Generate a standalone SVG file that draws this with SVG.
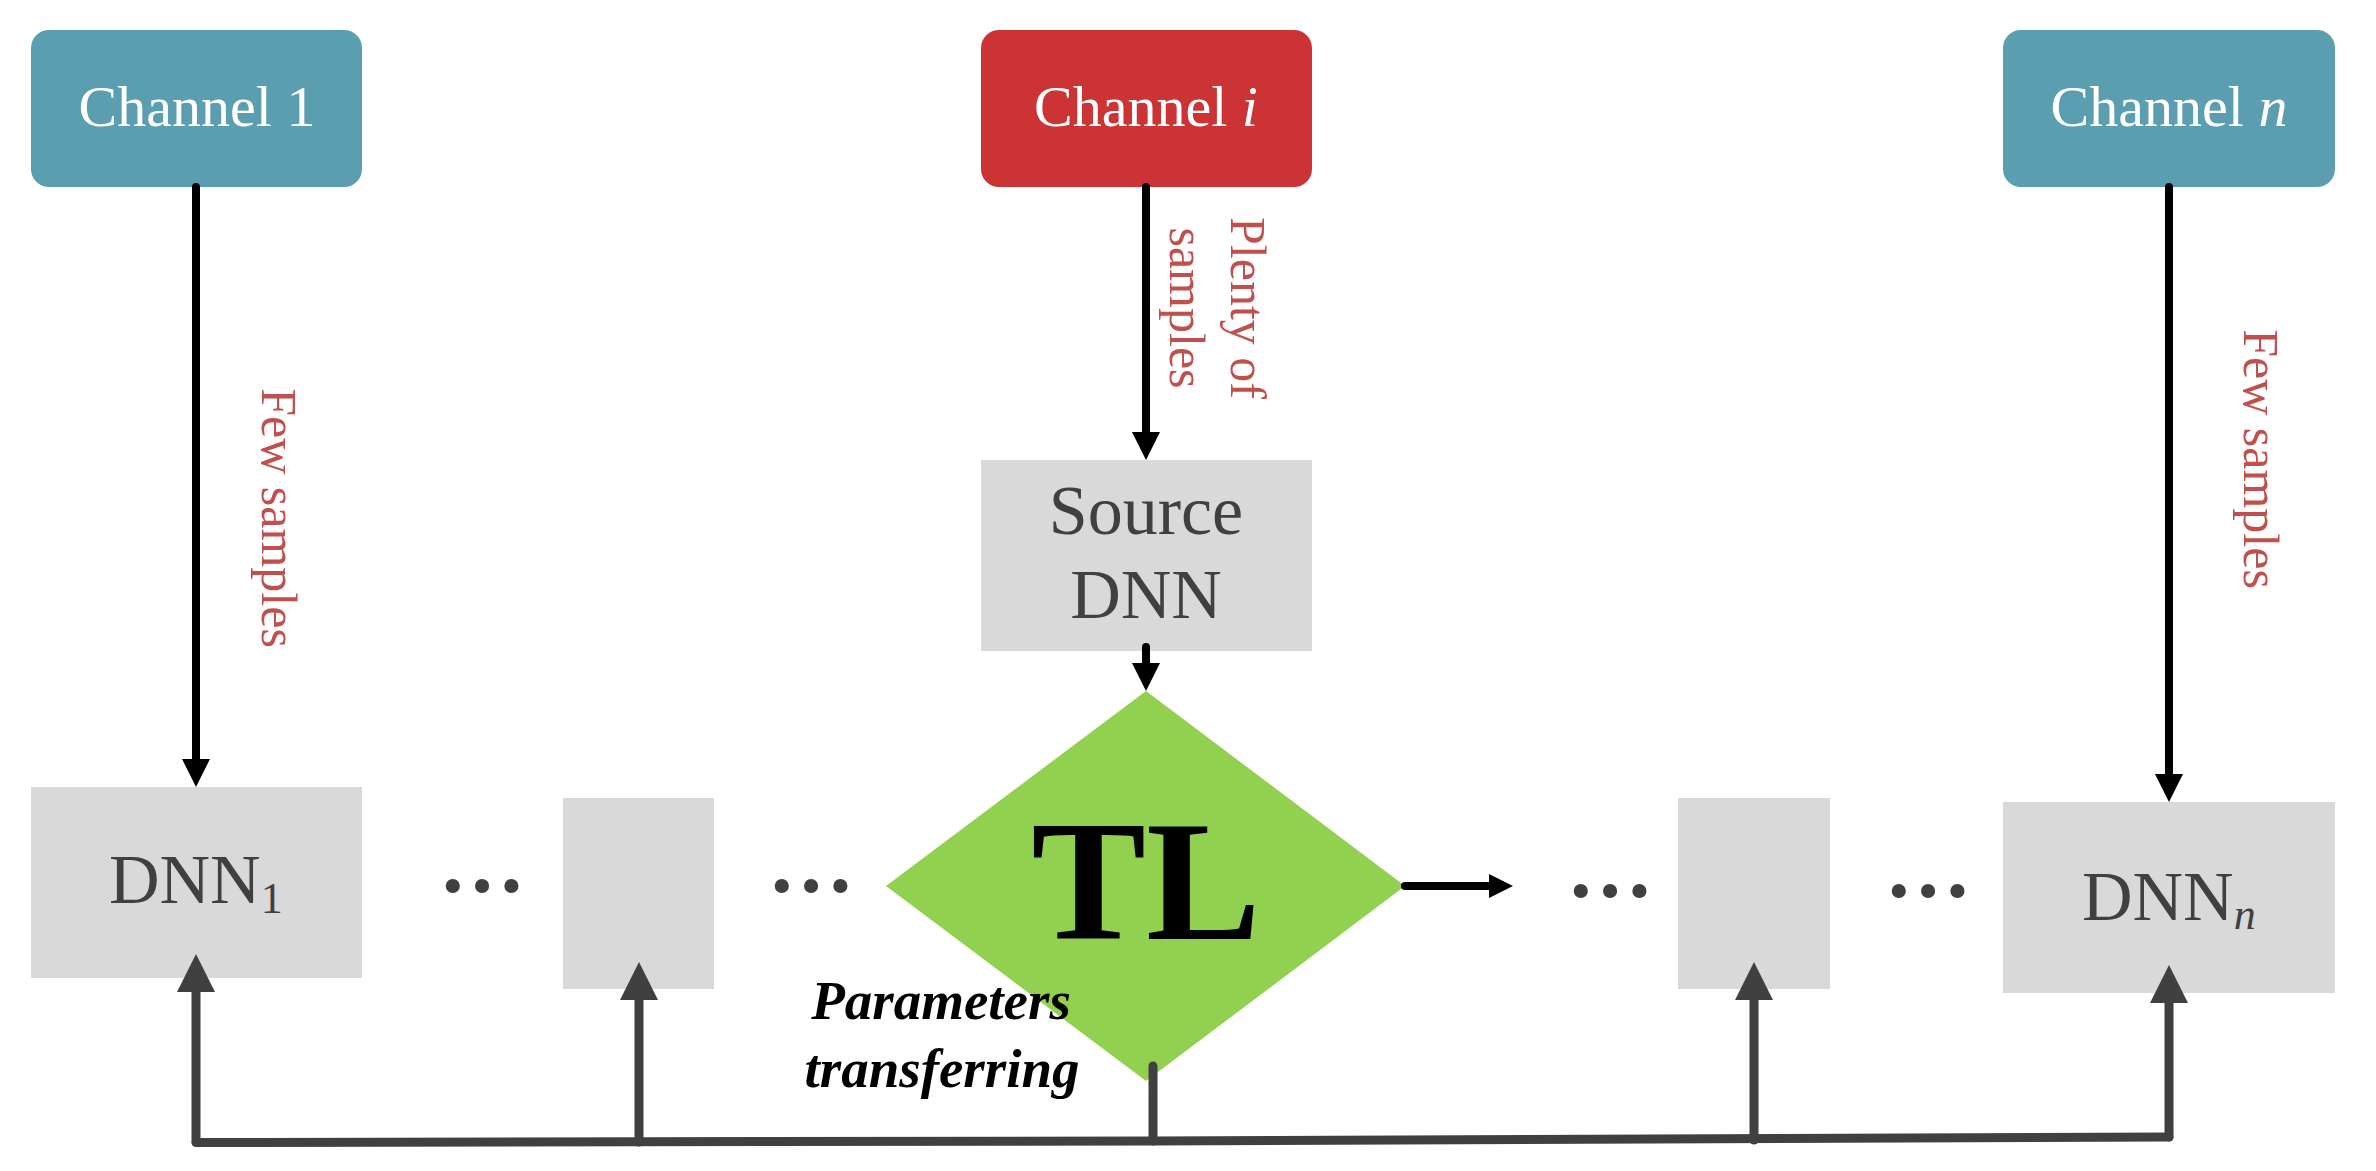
<svg xmlns="http://www.w3.org/2000/svg" width="2376" height="1171" viewBox="0 0 2376 1171">
  <style>
    text { font-family: "Liberation Serif", "Times New Roman", serif; }
    .ch { font-size: 58px; fill: #ffffff; text-anchor: middle; }
    .teal { fill: #5b9eb0; }
    .red { fill: #cc3335; }
    .gray { fill: #d9d9d9; }
    .dnn { font-size: 70px; fill: #404040; }
    .lbl { font-size: 50px; fill: #c0504d; text-anchor: middle; }
    .dots { font-size: 87px; font-weight: bold; fill: #404040; text-anchor: middle; }
    .blk { fill: none; stroke: #000000; stroke-width: 8; stroke-linecap: round; }
    .dg { fill: none; stroke: #404040; stroke-width: 9; stroke-linecap: round; stroke-linejoin: round; }
  </style>
  <defs>
    <marker id="ab" viewBox="0 0 28 28" refX="1" refY="14" markerWidth="28" markerHeight="28" markerUnits="userSpaceOnUse" orient="auto">
      <path d="M0,0 L28,14 L0,28 Z" fill="#000000"/>
    </marker>
    <marker id="ar" viewBox="0 0 24 24" refX="1" refY="12" markerWidth="24" markerHeight="24" markerUnits="userSpaceOnUse" orient="auto">
      <path d="M0,0 L24,12 L0,24 Z" fill="#000000"/>
    </marker>
    <marker id="ag" viewBox="0 0 38 38" refX="1" refY="19" markerWidth="38" markerHeight="38" markerUnits="userSpaceOnUse" orient="auto">
      <path d="M0,0 L38,19 L0,38 Z" fill="#404040"/>
    </marker>
  </defs>

  <g id="channel-1">
    <rect class="teal" x="31" y="30" width="331" height="157" rx="18"/>
    <text class="ch" x="197" y="126">Channel 1</text>
  </g>
  <g id="channel-i">
    <rect class="red" x="981" y="30" width="331" height="157" rx="18"/>
    <text class="ch" x="1146" y="126">Channel <tspan font-style="italic">i</tspan></text>
  </g>
  <g id="channel-n">
    <rect class="teal" x="2003" y="30" width="332" height="157" rx="18"/>
    <text class="ch" x="2169" y="126">Channel <tspan font-style="italic">n</tspan></text>
  </g>

  <g id="source-dnn">
    <rect class="gray" x="981" y="460" width="331" height="191"/>
    <text class="dnn" text-anchor="middle"><tspan x="1146" y="534">Source</tspan><tspan x="1146" y="618">DNN</tspan></text>
  </g>

  <g id="dnn-1">
    <rect class="gray" x="31" y="787" width="331" height="191"/>
    <text class="dnn" x="109" y="903">DNN<tspan font-size="44" dy="10">1</tspan></text>
  </g>
  <g id="dnn-a">
    <rect class="gray" x="563" y="798" width="151" height="191"/>
  </g>
  <g id="tl">
    <polygon points="1146,691 1405,886 1146,1081 886,886" fill="#92d050"/>
    <text x="1146" y="939" font-size="172" font-weight="bold" text-anchor="middle" fill="#000000">TL</text>
  </g>
  <g id="dnn-b">
    <rect class="gray" x="1678" y="798" width="152" height="191"/>
  </g>
  <g id="dnn-n">
    <rect class="gray" x="2003" y="802" width="332" height="191"/>
    <text class="dnn" x="2082" y="920">DNN<tspan font-size="44" font-style="italic" dy="9">n</tspan></text>
  </g>

  <g id="ellipses">
    <text class="dots" x="482" y="892">…</text>
    <text class="dots" x="811" y="892">…</text>
    <text class="dots" x="1610" y="897">…</text>
    <text class="dots" x="1928" y="897">…</text>
  </g>

  <g id="connectors">
    <path class="blk" d="M196,187 V760" marker-end="url(#ab)"/>
    <path class="blk" d="M1146,187 V433" marker-end="url(#ab)"/>
    <path class="blk" d="M2169,187 V775" marker-end="url(#ab)"/>
    <path class="blk" d="M1146,647 V664" marker-end="url(#ab)"/>
    <path class="blk" d="M1405,886 H1490" stroke-width="7" marker-end="url(#ar)"/>
    <path class="dg" d="M196,1142 V991" marker-end="url(#ag)"/>
    <path class="dg" d="M639,1142 V999" marker-end="url(#ag)"/>
    <path class="dg" d="M1754,1140 V999" marker-end="url(#ag)"/>
    <path class="dg" d="M2169,1137 V1002" marker-end="url(#ag)"/>
    <path class="dg" d="M1153,1066 V1141"/>
    <path class="dg" d="M196,1142.5 L1153,1141 L2169,1137" stroke-width="10.5"/>
  </g>

  <g id="labels">
    <text class="lbl" transform="translate(262,518) rotate(90)">Few samples</text>
    <text class="lbl" transform="translate(2244,459) rotate(90)">Few samples</text>
    <text class="lbl" transform="translate(1231,308) rotate(90)"><tspan x="0" y="0">Plenty of</tspan><tspan x="0" y="61">samples</tspan></text>
    <text x="941" font-size="55" font-weight="bold" font-style="italic" fill="#000000" text-anchor="middle"><tspan x="941" y="1019">Parameters</tspan><tspan x="942" y="1087">transferring</tspan></text>
  </g>
</svg>
